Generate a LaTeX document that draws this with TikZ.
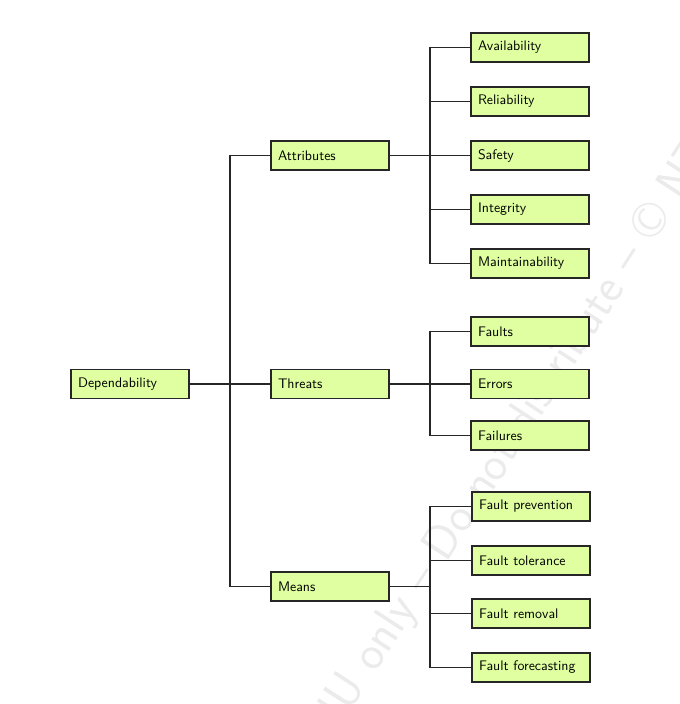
\documentclass[tikz,border=0pt]{standalone}
\usepackage{fontspec}
\begin{document}
\begin{tikzpicture}[x=0.75pt,y=-0.75pt,
  every node/.style={font=\sffamily\fontsize{10.4}{12}\selectfont},
  boxnode/.style={draw=black!85, line width=1.1pt, fill=boxfill,
    minimum height=21.75pt, text width=78pt, inner xsep=5.25pt,
    inner ysep=0pt, align=left, anchor=center},
  conn/.style={draw=black!85, line width=1.1pt},
  wmark/.style={text=black!8, font=\sffamily\fontsize{36.5}{40}\selectfont}
]
\definecolor{boxfill}{RGB}{223,255,160}
\useasboundingbox (0,0) rectangle (680,704);
\begin{scope}
\clip (0,0) rectangle (680,704);
\node[wmark, rotate=57] (wm) at (514,438) {NTNU only -- Do not distribute -- \textcopyright{} NTNU};
\end{scope}
% root and level 1
\node[boxnode] (dep) at (130,384) {Dependability};
\node[boxnode] (att) at (330,155.5) {Attributes};
\node[boxnode] (thr) at (330,384) {Threats};
\node[boxnode] (mea) at (330,586.5) {Means};
% attributes
\node[boxnode] (ava) at (530,47.5) {Availability};
\node[boxnode] (rel) at (530,101.5) {Reliability};
\node[boxnode] (saf) at (530,155.5) {Safety};
\node[boxnode] (int) at (530,209.5) {Integrity};
\node[boxnode] (mai) at (530,263.5) {Maintainability};
% threats
\node[boxnode] (fau) at (530,331.5) {Faults};
\node[boxnode] (err) at (530,384) {Errors};
\node[boxnode] (fai) at (530,435.5) {Failures};
% means
\node[boxnode] (fpr) at (531,506.5) {Fault prevention};
\node[boxnode] (fto) at (531,560.5) {Fault tolerance};
\node[boxnode] (fre) at (531,613.5) {Fault removal};
\node[boxnode] (ffo) at (531,667.5) {Fault forecasting};
% buses
\coordinate (b0) at (230,384);
\coordinate (b1) at (430,155.5);
\coordinate (b2) at (430,384);
\coordinate (b3) at (430,586.5);
% level 1 connectors
\draw[conn] (dep.east) -- (thr.west);
\draw[conn] (att.west) -| (b0) |- (mea.west);
% attributes connectors
\draw[conn] (att.east) -- (saf.west);
\draw[conn] (ava.west) -| (b1) |- (mai.west);
\draw[conn] (rel.west) -- (rel.west -| b1);
\draw[conn] (int.west) -- (int.west -| b1);
% threats connectors
\draw[conn] (thr.east) -- (err.west);
\draw[conn] (fau.west) -| (b2) |- (fai.west);
% means connectors
\draw[conn] (mea.east) -- (b3);
\draw[conn] (fpr.west) -| (b3) |- (ffo.west);
\draw[conn] (fto.west) -- (fto.west -| b3);
\draw[conn] (fre.west) -- (fre.west -| b3);
\end{tikzpicture}
\end{document}
